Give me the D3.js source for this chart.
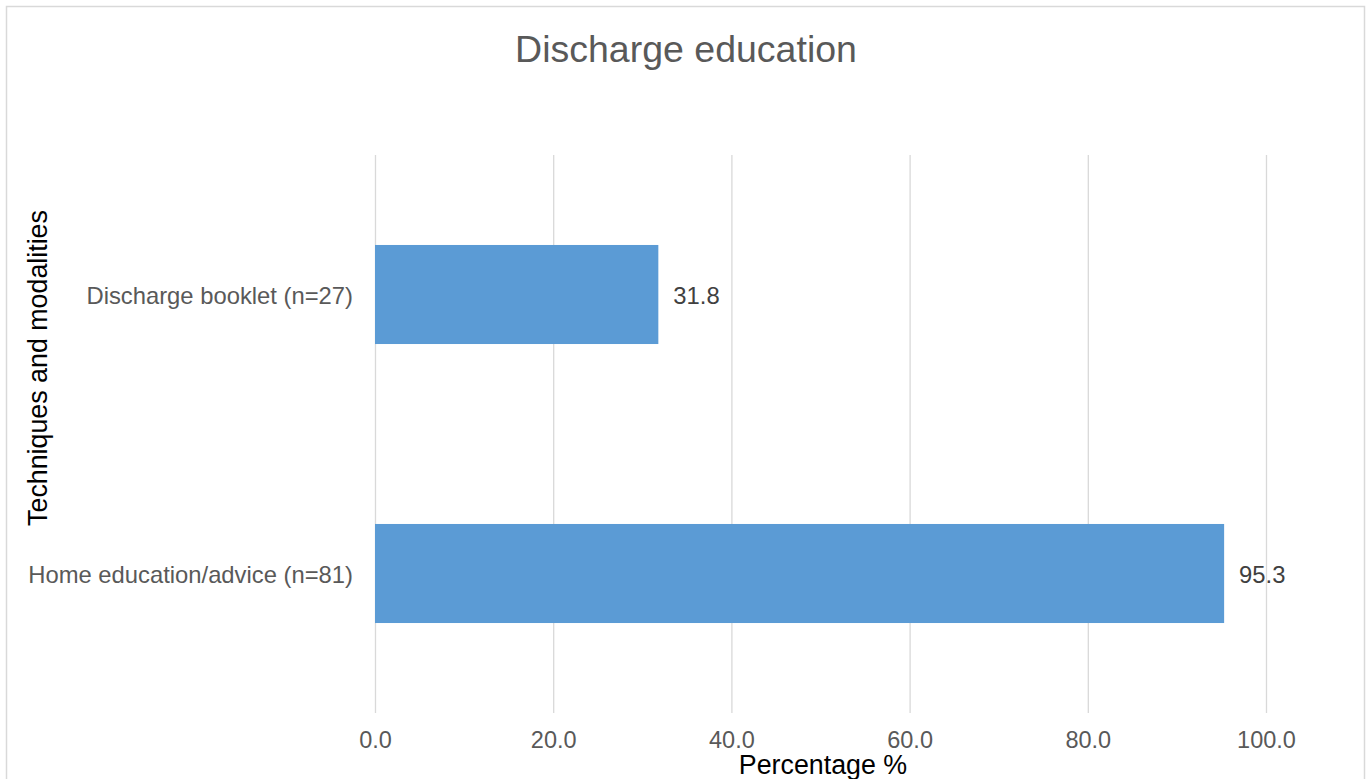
<!DOCTYPE html>
<html><head><meta charset="utf-8">
<script src="https://cdn.jsdelivr.net/npm/d3@7"></script>
<style>html,body{margin:0;padding:0;background:#fff;overflow:hidden}svg{display:block;font-family:"Liberation Sans",Arial,sans-serif}</style>
</head><body>
<script>
const categories = ["Discharge booklet (n=27)", "Home education/advice (n=81)"];
const values = [31.8, 95.3];
const xTicks = [0, 20, 40, 60, 80, 100];
const titleText = "Discharge education";
const xTitle = "Percentage %";
const yTitle = "Techniques and modalities";

(function () {
const W = 1371, H = 779;
const svg = d3.select("body").append("svg").attr("width", W).attr("height", H);
svg.append("rect").attr("x", 6.5).attr("y", 6.5).attr("width", 1358).attr("height", 800)
  .attr("fill", "#fff").attr("stroke", "#d9d9d9").attr("stroke-width", 1.5);

const pL = 375, pR = 1266, pT = 155, pB = 713;
const x = d3.scaleLinear().domain([0, 100]).range([pL, pR]);
const y = d3.scaleBand().domain(categories).range([pT, pB]).paddingInner(0.645).paddingOuter(0.3225);

const gx = svg.append("g").attr("transform", `translate(0,${pB})`)
  .call(d3.axisBottom(x).tickValues(xTicks).tickFormat(d3.format(".1f")).tickSize(-(pB - pT)).tickPadding(0));
gx.select(".domain").remove();
gx.selectAll(".tick line").attr("stroke", "#d9d9d9").attr("stroke-width", 1.3);
gx.selectAll(".tick text").attr("fill", "#595959").attr("font-size", 23.5)
  .attr("font-family", "Liberation Sans, Arial, sans-serif").attr("y", 35).attr("dy", 0);

const gy = svg.append("g").attr("transform", `translate(${pL},0)`)
  .call(d3.axisLeft(y).tickSize(0).tickPadding(22));
gy.select(".domain").remove();
gy.selectAll(".tick text").attr("fill", "#595959").attr("font-size", 23.8)
  .attr("font-family", "Liberation Sans, Arial, sans-serif").attr("dy", "0.4em");

svg.append("g").selectAll("rect").data(values).join("rect")
  .attr("x", x(0)).attr("y", (d, i) => y(categories[i]))
  .attr("width", d => x(d) - x(0)).attr("height", y.bandwidth())
  .attr("fill", "#5b9bd5");

svg.append("g").selectAll("text").data(values).join("text")
  .attr("x", d => x(d) + 15).attr("y", (d, i) => y(categories[i]) + y.bandwidth() / 2)
  .attr("dy", "0.4em").attr("fill", "#404040").attr("font-size", 23.8)
  .text(d => d3.format(".1f")(d));

svg.append("text").attr("x", 686).attr("y", 62).attr("text-anchor", "middle")
  .attr("fill", "#595959").attr("font-size", 37.5).text(titleText);

svg.append("text").attr("x", 823).attr("y", 774).attr("text-anchor", "middle")
  .attr("fill", "#000").attr("font-size", 26.8).text(xTitle);

svg.append("text").attr("transform", `translate(47,368) rotate(-90)`).attr("text-anchor", "middle")
  .attr("fill", "#000").attr("font-size", 26.8).text(yTitle);
})();
</script>
</body></html>
